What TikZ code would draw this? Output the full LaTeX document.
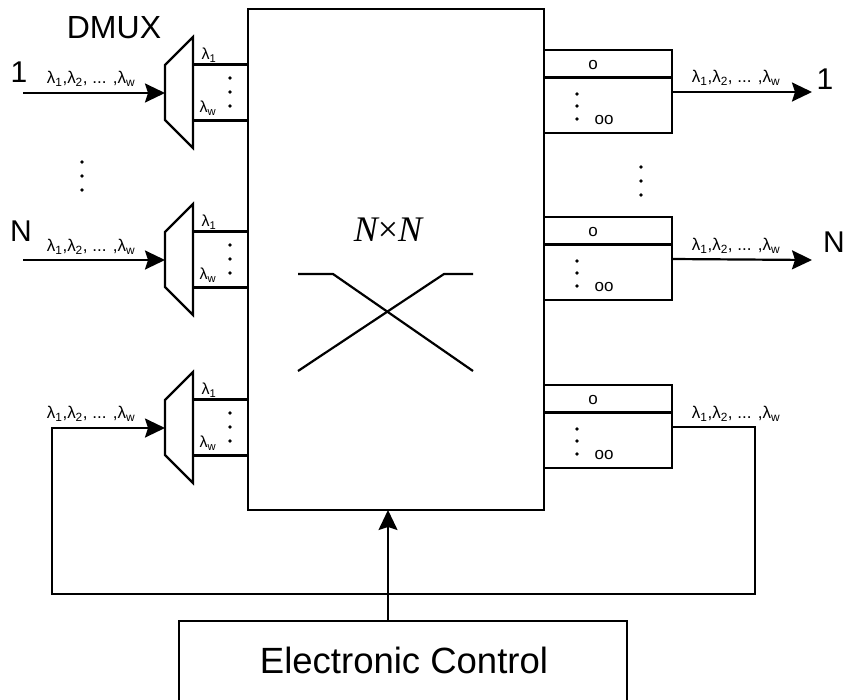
\documentclass[tikz,border=0pt]{standalone}
\usepackage{fontspec}
\setmainfont{Liberation Sans}
\newfontfamily\timesfont{Liberation Serif}
\usetikzlibrary{arrows.meta,calc}
\begin{document}
\begin{tikzpicture}[x=1pt,y=-1pt,line width=2.2pt,
  tipa/.style={-{Stealth[length=20pt,width=19pt,inset=3pt]}},
  bigtxt/.style={font=\fontsize{30}{30}\selectfont,inner sep=0pt},
  lamtxt/.style={font=\fontsize{17}{17}\selectfont,inner sep=0pt},
  smalltxt/.style={font=\fontsize{16}{16}\selectfont,inner sep=0pt},
  otxt/.style={font=\fontsize{17}{17}\selectfont,inner sep=0pt},
  box/.style={draw,inner sep=0pt,outer sep=0pt}]
\useasboundingbox (0,0) rectangle (848,699);
\clip (0,0) rectangle (848,699);

% main switch
\node[box,minimum width=296pt,minimum height=501pt,anchor=north west] (sw) at (248,9) {};
\node[font=\fontsize{36}{36}\selectfont\timesfont,inner sep=0pt] (nxn) at (388,230) {\itshape N\upshape{}×\itshape N};
\draw (298,274) -- (333,274) -- (473,371);
\draw (473,274) -- (444,274) -- (298,371);

% demultiplexers
\foreach \i/\t in {1/37,2/204,3/372} {
  \draw[line join=miter] (193,\t) -- (193,\t+111) -- (165,\t+83) -- (165,\t+28) -- cycle;
  \coordinate (d\i) at (165,\t+56);
  \coordinate (d\i a) at (193,\t+27.5);
  \coordinate (d\i b) at (193,\t+83.5);
  \draw (d\i a) -- (d\i a -| sw.west);
  \draw (d\i b) -- (d\i b -| sw.west);
  \node[smalltxt] (dl\i a) at (209,\t+18) {λ\textsubscript{1}};
  \node[smalltxt] (dl\i b) at (208,\t+71) {λ\textsubscript{w}};
  \fill (230,\t+41) circle (1.8pt) (230,\t+55) circle (1.8pt) (230,\t+69) circle (1.8pt);
}

% output buffers
\foreach \j/\b in {1/50,2/217,3/385} {
  \node[box,minimum width=128pt,minimum height=83pt,anchor=north west] (o\j) at (544,\b) {};
  \draw ($(o\j.north west)+(0,27.5)$) -- ($(o\j.north east)+(0,27.5)$);
  \coordinate (oo\j) at ($(o\j.north east)+(0,42)$);
  \node[otxt] (ot\j) at (593,\b+15) {o};
  \node[otxt] (oot\j) at (604,\b+70) {oo};
  \fill (577,\b+44) circle (1.8pt) (577,\b+56) circle (1.8pt) (577,\b+69) circle (1.8pt);
}

% inputs
\node[font=\fontsize{32}{32}\selectfont,inner sep=0pt] (dmux) at (114,27.5) {DMUX};
\node[bigtxt] (in1t) at (19,72) {1};
\node[bigtxt] (in2t) at (21,231) {N};
\coordinate (in1) at (23,93);
\coordinate (in2) at (23,260);
\draw[tipa] (in1) -- (d1);
\draw[tipa] (in2) -- (d2);
\node[lamtxt] (il1) at (91,79) {λ\textsubscript{1},λ\textsubscript{2}, ... ,λ\textsubscript{w}};
\node[lamtxt] (il2) at (91,247) {λ\textsubscript{1},λ\textsubscript{2}, ... ,λ\textsubscript{w}};
\node[lamtxt] (il3) at (91,414) {λ\textsubscript{1},λ\textsubscript{2}, ... ,λ\textsubscript{w}};
\fill (82,162) circle (1.8pt) (82,176) circle (1.8pt) (82,190) circle (1.8pt);

% outputs
\coordinate (out1) at (812,92);
\coordinate (out2) at (812,260);
\draw[tipa] (oo1) -- (out1);
\draw[tipa] (oo2) -- (out2);
\node[bigtxt] (out1t) at (825,79) {1};
\node[bigtxt] (out2t) at (834,242.5) {N};
\node[lamtxt] (ol1) at (736,78) {λ\textsubscript{1},λ\textsubscript{2}, ... ,λ\textsubscript{w}};
\node[lamtxt] (ol2) at (736,246) {λ\textsubscript{1},λ\textsubscript{2}, ... ,λ\textsubscript{w}};
\node[lamtxt] (ol3) at (736,414) {λ\textsubscript{1},λ\textsubscript{2}, ... ,λ\textsubscript{w}};
\fill (641,167) circle (1.8pt) (641,181) circle (1.8pt) (641,195) circle (1.8pt);

% feedback loop
\coordinate (lr) at (755,594);
\coordinate (ll) at (52,594);
\draw[tipa,line join=miter] (oo3) -| (lr) -- (ll) |- (d3);

% electronic control
\node[box,minimum width=448pt,minimum height=120pt,anchor=north west] (ec) at (179,621) {};
\node[font=\fontsize{36.5}{36.5}\selectfont,inner sep=0pt] (ect) at (404,660) {Electronic Control};
\coordinate (ctl) at (388,621);
\draw[tipa,line width=1.7pt] (ctl) -- (ctl |- sw.south);
\end{tikzpicture}
\end{document}
